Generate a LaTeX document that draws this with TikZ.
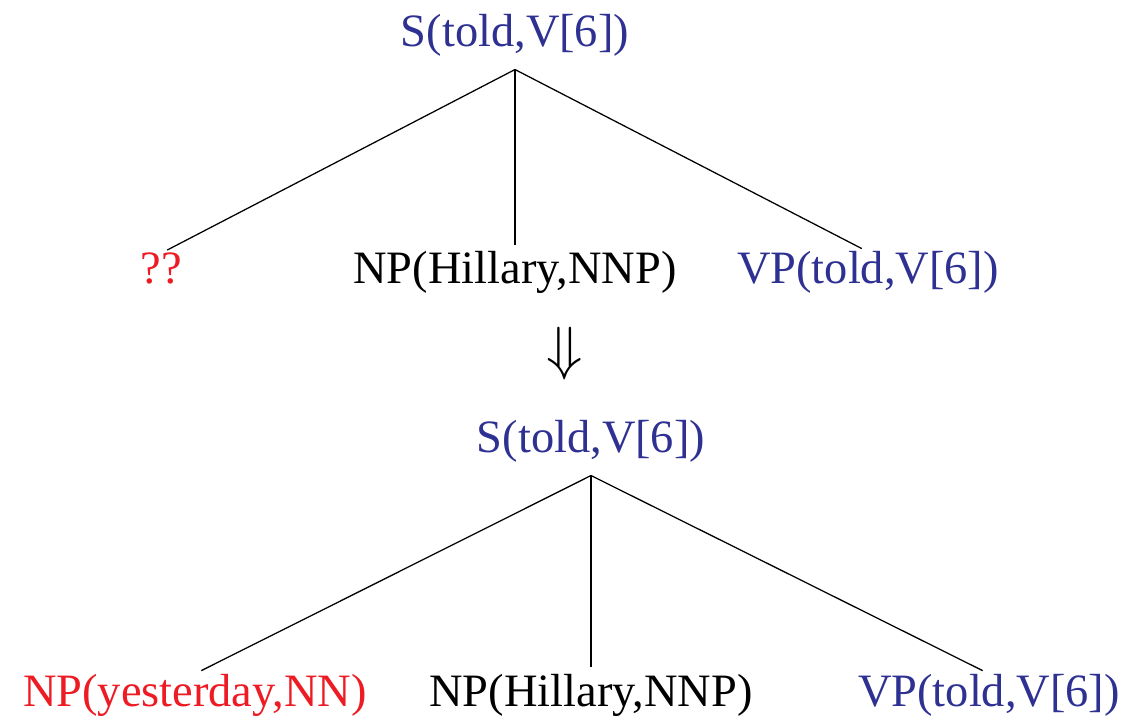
\documentclass[tikz,border=0pt]{standalone}
\usepackage{fontspec}
\setmainfont{Liberation Serif}
\usepackage{amsmath,amssymb}
\definecolor{headblue}{HTML}{2E3192}
\definecolor{newred}{HTML}{ED1C24}

\begin{document}
\begin{tikzpicture}[x=0.025cm, y=-0.025cm,
  lbl/.style={anchor=base, inner sep=0pt, outer sep=0pt,
    font=\fontsize{33}{40}\selectfont},
  edge/.style={black, line width=0.9pt, shorten >=5pt}]

% Frame
\useasboundingbox (0,0) rectangle (1124,720);

% --- Upper tree ---
\node[lbl, text=headblue] (s1) at (515,47) {S(told,V[6])};
\coordinate (s1j) at ([yshift=-9pt]s1.south);
\node[lbl, text=newred] (q1) at (161,284) {??};
\node[lbl] (np1) at (515,284) {NP(Hillary,NNP)};
\node[lbl, text=headblue] (vp1) at (868,284) {VP(told,V[6])};

\draw[edge] (s1j) -- (q1.north);
\draw[edge] (s1j) -- (np1.north);
\draw[edge] (s1j) -- (vp1.north);

% Arrow
\node[inner sep=0pt] (arr) at (565,354)
  {\scalebox{1.7}{\fontsize{24}{28}\selectfont$\Downarrow$}};

% --- Lower tree ---
\node[lbl, text=headblue] (s2) at (591,453) {S(told,V[6])};
\coordinate (s2j) at ([yshift=-9pt]s2.south);
\node[lbl, text=newred] (np2) at (195,706) {NP(yesterday,NN)};
\node[lbl] (np3) at (591,706) {NP(Hillary,NNP)};
\node[lbl, text=headblue] (vp2) at (989,706) {VP(told,V[6])};

\draw[edge] (s2j) -- (np2.north);
\draw[edge] (s2j) -- (np3.north);
\draw[edge] (s2j) -- (vp2.north);

\end{tikzpicture}
\end{document}
